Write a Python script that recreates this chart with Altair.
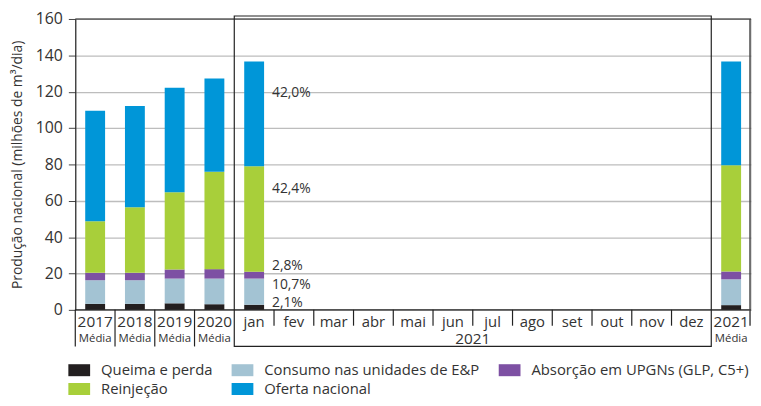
import altair as alt
import pandas as pd

# ---- data ----
categories = ["2017", "2018", "2019", "2020", "jan", "fev", "mar", "abr", "mai",
              "jun", "jul", "ago", "set", "out", "nov", "dez", "2021"]
bar_cats = ["2017", "2018", "2019", "2020", "jan", "2021"]
series = ["Queima e perda", "Consumo nas unidades de E&P", "Absorção em UPGNs (GLP, C5+)",
          "Reinjeção", "Oferta nacional"]
colors = ["#231f20", "#a3c3d3", "#7d50a3", "#a8cf3a", "#0096d8"]
queima = [3.3, 3.3, 3.6, 3.1, 2.8, 2.6]
consumo = [13.0, 13.0, 13.6, 14.1, 14.4, 14.2]
absorcao = [4.1, 4.1, 5.0, 5.2, 3.8, 4.3]
reinjecao = [28.4, 36.1, 42.5, 53.5, 58.0, 58.5]
oferta = [60.7, 55.6, 57.5, 51.4, 57.6, 57.0]

pct_labels = ["42,0%", "42,4%", "2,8%", "10,7%", "2,1%"]
pct_anchor = [119.4, 66.4, 24.0, 13.7, 3.9]

year_labels = ["2017", "2018", "2019", "2020", "2021"]
month_labels = ["jan", "fev", "mar", "abr", "mai", "jun", "jul", "ago", "set", "out", "nov", "dez"]
long_seps = ["2017", "2018", "2019", "2020"]
short_seps = ["fev", "mar", "abr", "mai", "jun", "jul", "ago", "set", "out", "nov", "dez"]
y_ticks = [0, 20, 40, 60, 80, 100, 120, 140, 160]

rows = []
for i, c in enumerate(bar_cats):
    for k, vals in enumerate([queima, consumo, absorcao, reinjecao, oferta]):
        rows.append({"cat": c, "serie": series[k], "ord": k, "value": vals[i]})
df = pd.DataFrame(rows)

W = 683
H = 294
step = W / 17
FONT = "Open Sans"
TXT = "#333333"

xs = alt.Scale(domain=categories, paddingInner=0, paddingOuter=0)
ys = alt.Scale(domain=[0, 160], nice=False)
yaxis = alt.Axis(values=y_ticks, grid=True, gridColor="#bdbdbd",
                 gridWidth=1.3, domainColor="#222", domainWidth=1.2,
                 tickColor="#444", tickSize=7, labelPadding=6, labelOverlap=False,
                 labelFontSize=16, labelColor=TXT, labelFont=FONT,
                 title="Produção nacional (milhões de m³/dia)",
                 titleFont=FONT, titleFontSize=14, titleFontWeight="normal",
                 titleColor=TXT, titleX=-58, titleY=H / 2, titleAngle=-90,
                 titleAlign="center", titleBaseline="middle")

bars = alt.Chart(df).mark_bar(width={"band": 0.5}).encode(
    x=alt.X("cat:N", scale=xs, axis=None, sort=categories),
    y=alt.Y("value:Q", stack="zero", scale=ys, axis=yaxis),
    color=alt.Color("serie:N", scale=alt.Scale(domain=series, range=colors),
                    legend=alt.Legend(title=None, orient="none", legendX=-7, legendY=344,
                                      direction="horizontal", columns=3,
                                      symbolType="M-1,-0.55H1V0.55H-1Z", symbolSize=484,
                                      symbolStrokeWidth=0, symbolOpacity=1,
                                      labelFont=FONT, labelFontSize=15, labelColor=TXT,
                                      labelOffset=11, columnPadding=19, rowPadding=-1,
                                      labelLimit=400, padding=0)),
    order=alt.Order("ord:Q"),
)

lines_df = pd.DataFrame({"v": [0, 160]})
hlines = alt.Chart(lines_df).mark_rule(color="#222", strokeWidth=1.2).encode(
    y=alt.Y("v:Q", scale=ys, axis=yaxis))

long_df = pd.DataFrame({"cat": long_seps})
long_rules = alt.Chart(long_df).mark_rule(color="#222", strokeWidth=1.2).encode(
    x=alt.X("cat:N", scale=xs, bandPosition=0, axis=None),
    y=alt.value(H), y2=alt.value(H + 37))
short_df = pd.DataFrame({"cat": short_seps})
short_rules = alt.Chart(short_df).mark_rule(color="#222", strokeWidth=1.2).encode(
    x=alt.X("cat:N", scale=xs, bandPosition=0, axis=None),
    y=alt.value(H), y2=alt.value(H + 16))

right_border = alt.Chart(lines_df.head(1)).mark_rule(color="#444", strokeWidth=1.5).encode(
    x=alt.value(W - 1), y=alt.value(0), y2=alt.value(H + 16))

box = alt.Chart(lines_df.head(1)).mark_rect(fill=None, stroke="#222", strokeWidth=1.2).encode(
    x=alt.value(4 * step), x2=alt.value(16 * step), y=alt.value(-3), y2=alt.value(H + 37))

yl_df = pd.DataFrame({"cat": ["2017", "2018", "2019", "2020", "2021"], "t": year_labels})
year_text = alt.Chart(yl_df).mark_text(font=FONT, fontSize=15.5, color=TXT, baseline="middle").encode(
    x=alt.X("cat:N", scale=xs, axis=None), y=alt.value(H + 12), text="t:N")
media_text = alt.Chart(yl_df).mark_text(font=FONT, fontSize=11.5, color=TXT,
                                         baseline="middle").encode(
    x=alt.X("cat:N", scale=xs, axis=None), y=alt.value(H + 29), text=alt.value("Média"))
ml_df = pd.DataFrame({"cat": month_labels})
month_text = alt.Chart(ml_df).mark_text(font=FONT, fontSize=15, color=TXT, baseline="middle").encode(
    x=alt.X("cat:N", scale=xs, axis=None), y=alt.value(H + 12), text="cat:N")
group_text = alt.Chart(pd.DataFrame({"cat": ["jul"]})).mark_text(
    font=FONT, fontSize=15.5, color=TXT, baseline="middle").encode(
    x=alt.X("cat:N", scale=xs, bandPosition=0, axis=None), y=alt.value(H + 30),
    text=alt.value("2021"))

pct_df = pd.DataFrame({"cat": ["jan"] * 5, "t": pct_labels, "v": pct_anchor})
pct_text = alt.Chart(pct_df).mark_text(font=FONT, fontSize=14, color=TXT, align="left",
                                       baseline="middle", dx=18).encode(
    x=alt.X("cat:N", scale=xs, axis=None), y=alt.Y("v:Q", scale=ys, axis=yaxis), text="t:N")

chart = alt.layer(bars, hlines, long_rules, short_rules, right_border, box,
                  year_text, media_text, month_text, group_text, pct_text).properties(
    width=W, height=H,
    autosize=alt.AutoSizeParams(type="none"),
    padding={"left": 68, "top": 9, "right": 2, "bottom": 87},
).configure_view(stroke=None).configure(font=FONT)

chart.save("out.html", embed_options={"renderer": "svg", "actions": False})
